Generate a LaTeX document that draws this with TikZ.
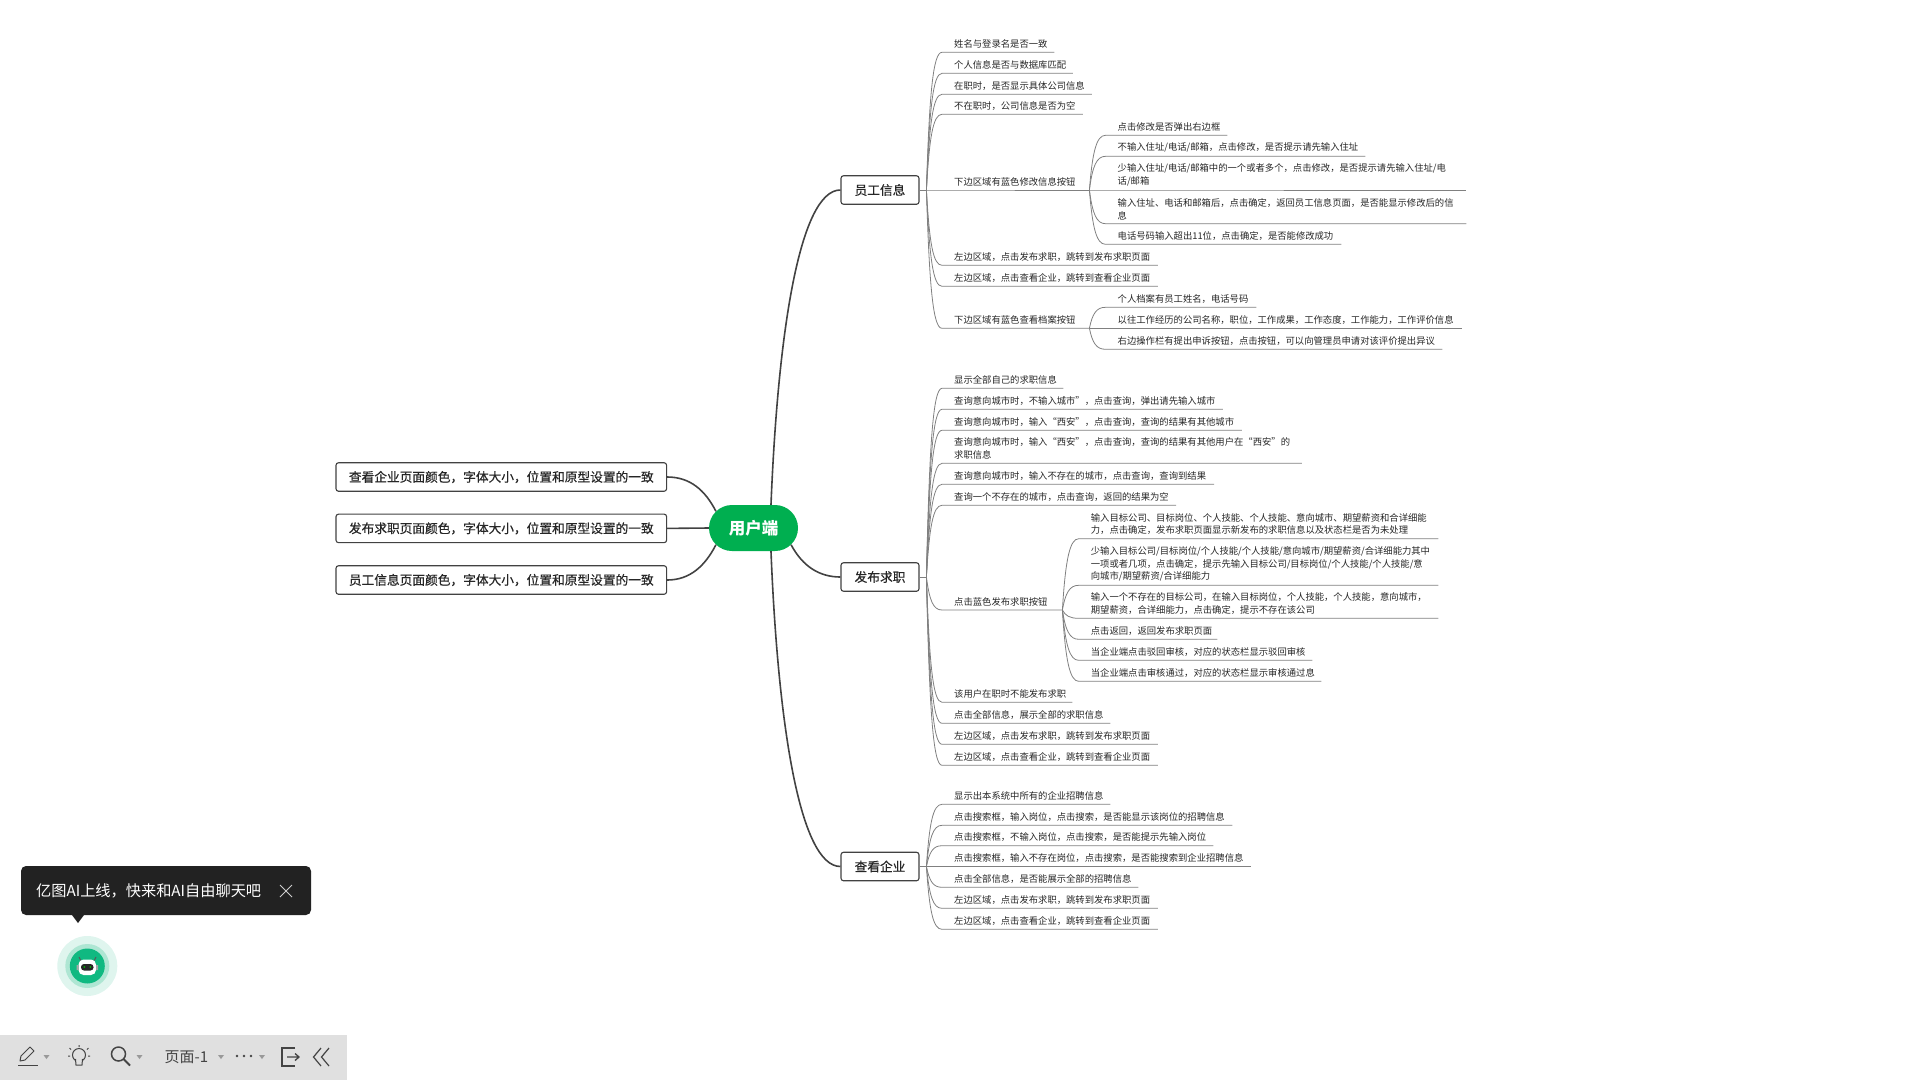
\documentclass[tikz,border=0pt]{standalone}
\usepackage{fontspec}
\setmainfont{Noto Sans CJK SC}
\newfontfamily\boldcjk[FakeBold=0.45]{Noto Sans CJK SC}
\usepackage{xcolor}
\usetikzlibrary{calc,shapes.misc}
\definecolor{trunkc}{HTML}{424242}
\definecolor{twigc}{HTML}{808080}
\definecolor{leafc}{HTML}{262626}
\definecolor{rootc}{HTML}{00AF50}
\definecolor{tipc}{HTML}{222222}
\definecolor{barc}{HTML}{E0E0E0}
\definecolor{iconc}{HTML}{444444}
\definecolor{botc}{HTML}{10B981}
\definecolor{botmid}{HTML}{AEE6D3}
\definecolor{botout}{HTML}{DFF5EE}
\tikzset{
  rootnode/.style={rounded rectangle,fill=rootc,text=white,minimum width=89pt,minimum height=46pt,inner sep=0pt,font=\fontsize{16.5}{18}\selectfont\bfseries},
  topic/.style={rectangle,rounded corners=2.5pt,draw=trunkc,line width=1.1pt,fill=white,text=leafc,minimum height=28.5pt,inner sep=0pt,font=\fontsize{12.7}{15}\selectfont\boldcjk},
  leaf/.style={anchor=south west,inner xsep=12pt,inner ysep=3.7pt,align=left,text=leafc,text width=#1pt,font=\fontsize{9.33}{12.7}\selectfont},
  trunk/.style={draw=trunkc,line width=1.6pt},
  twig/.style={draw=twigc,line width=0.8pt,to path={.. controls ($(\tikztostart)!.7!(\tikztostart |- \tikztotarget)+(3,0)$) and ($(\tikztotarget)+(-9,0)$) .. (\tikztotarget)}},
  caret/.style={fill=gray!80,draw=none}
}
\begin{document}
\begin{tikzpicture}[x=1pt,y=-1pt]
\useasboundingbox (0,0) rectangle (1920,1080);
% root and left boxes
\node[rootnode] (root) at (753.5,528) {用户端};
\node[topic,minimum width=330.6pt] (same1) at (501.3,477) {查看企业页面颜色，字体大小，位置和原型设置的一致};
\node[topic,minimum width=330.6pt] (same2) at (501.3,528.4) {发布求职页面颜色，字体大小，位置和原型设置的一致};
\node[topic,minimum width=330.6pt] (same3) at (501.3,580) {员工信息页面颜色，字体大小，位置和原型设置的一致};
\draw[trunk] (root.156) .. controls (705,490) and (690,477) .. (same1.east);
\draw[trunk] (root.west) -- (same2.east);
\draw[trunk] (root.204) .. controls (705,566) and (690,580) .. (same3.east);
% the three topics
\node[topic,minimum width=78pt] (staff) at (880,190) {员工信息};
\node[topic,minimum width=78pt] (post) at (880,577) {发布求职};
\node[topic,minimum width=78pt] (firm) at (880,866.5) {查看企业};
\draw[trunk] (root.53) .. controls (778,330) and (800,190) .. (staff.west);
\draw[trunk] (root.-24) .. controls (803,567) and (820,577) .. (post.west);
\draw[trunk] (root.-53) .. controls (778,726) and (800,866.5) .. (firm.west);
\coordinate (hubstaff) at (926.4,190);
\coordinate (hubpost) at (926.4,577);
\coordinate (hubfirm) at (926.4,866.5);
\draw[twig] (staff.east) -- (hubstaff);
\draw[twig] (post.east) -- (hubpost);
\draw[twig] (firm.east) -- (hubfirm);
% staff info
\node[leaf=88] (a1) at (942,52.3) {姓名与登录名是否一致};
\node[leaf=106.5] (a2) at (942,73.3) {个人信息是否与数据库匹配};
\node[leaf=125.4] (a3) at (942,94.3) {在职时，是否显示具体公司信息};
\node[leaf=116.5] (a4) at (942,114.3) {不在职时，公司信息是否为空};
\node[leaf=123] (a5) at (942,190) {下边区域有蓝色修改信息按钮};
\node[leaf=191.5] (a6) at (942,265.3) {左边区域，点击发布求职，跳转到发布求职页面};
\node[leaf=191.5] (a7) at (942,286.3) {左边区域，点击查看企业，跳转到查看企业页面};
\node[leaf=123] (a8) at (942,328.3) {下边区域有蓝色查看档案按钮};
\draw[twig] (hubstaff) to (a1.south west) -- (a1.south east);
\draw[twig] (hubstaff) to (a2.south west) -- (a2.south east);
\draw[twig] (hubstaff) to (a3.south west) -- (a3.south east);
\draw[twig] (hubstaff) to (a4.south west) -- (a4.south east);
\draw[twig] (hubstaff) -- (a5.south west) -- (a5.south east);
\draw[twig] (hubstaff) to (a6.south west) -- (a6.south east);
\draw[twig] (hubstaff) to (a7.south west) -- (a7.south east);
\draw[twig] (hubstaff) to (a8.south west) -- (a8.south east);
% edit button
\node[leaf=97.5] (b1) at (1105.5,135.3) {点击修改是否弹出右边框};
\node[leaf=235.5] (b2) at (1105.5,156.3) {不输入住址/电话/邮箱，点击修改，是否提示请先输入住址};
\node[leaf=336.5] (b3) at (1105.5,190) {少输入住址/电话/邮箱中的一个或者多个，点击修改，是否提示请先输入住址/电\\话/邮箱};
\node[leaf=336.5] (b4) at (1105.5,223.7) {输入住址、电话和邮箱后，点击确定，返回员工信息页面，是否能显示修改后的信\\息};
\node[leaf=211.5] (b5) at (1105.5,244.3) {电话号码输入超出11位，点击确定，是否能修改成功};
\draw[twig] (a5.south east) to (b1.south west) -- (b1.south east);
\draw[twig] (a5.south east) to (b2.south west) -- (b2.south east);
\draw[twig] (a5.south east) -- (b3.south west) -- (b3.south east);
\draw[twig] (a5.south east) to (b4.south west) -- (b4.south east);
\draw[twig] (a5.south east) to (b5.south west) -- (b5.south east);
% archive button
\node[leaf=126.5] (c1) at (1105.5,307.3) {个人档案有员工姓名，电话号码};
\node[leaf=332.5] (c2) at (1105.5,328.3) {以往工作经历的公司名称，职位，工作成果，工作态度，工作能力，工作评价信息};
\node[leaf=312.5] (c3) at (1105.5,349.3) {右边操作栏有提出申诉按钮，点击按钮，可以向管理员申请对该评价提出异议};
\draw[twig] (a8.south east) to (c1.south west) -- (c1.south east);
\draw[twig] (a8.south east) -- (c2.south west) -- (c2.south east);
\draw[twig] (a8.south east) to (c3.south west) -- (c3.south east);
% posting
\node[leaf=97] (d1) at (942,388.3) {显示全部自己的求职信息};
\node[leaf=256.5] (d2) at (942,409.3) {查询意向城市时，不输入城市”，点击查询，弹出请先输入城市};
\node[leaf=275.4] (d3) at (942,430.3) {查询意向城市时，输入“西安”，点击查询，查询的结果有其他城市};
\node[leaf=335.4] (d4) at (942,463.3) {查询意向城市时，输入“西安”，点击查询，查询的结果有其他用户在“西安”的\\求职信息};
\node[leaf=247.6] (d5) at (942,484.3) {查询意向城市时，输入不存在的城市，点击查询，查询到结果};
\node[leaf=209.7] (d6) at (942,505.3) {查询一个不存在的城市，点击查询，返回的结果为空};
\node[leaf=96] (d7) at (942,610) {点击蓝色发布求职按钮};
\node[leaf=106] (d8) at (942,702.3) {该用户在职时不能发布求职};
\node[leaf=144] (d9) at (942,723.3) {点击全部信息，展示全部的求职信息};
\node[leaf=191.5] (d10) at (942,744.3) {左边区域，点击发布求职，跳转到发布求职页面};
\node[leaf=191.5] (d11) at (942,765.3) {左边区域，点击查看企业，跳转到查看企业页面};
\draw[twig] (hubpost) to (d1.south west) -- (d1.south east);
\draw[twig] (hubpost) to (d2.south west) -- (d2.south east);
\draw[twig] (hubpost) to (d3.south west) -- (d3.south east);
\draw[twig] (hubpost) to (d4.south west) -- (d4.south east);
\draw[twig] (hubpost) to (d5.south west) -- (d5.south east);
\draw[twig] (hubpost) to (d6.south west) -- (d6.south east);
\draw[twig] (hubpost) to (d7.south west) -- (d7.south east);
\draw[twig] (hubpost) to (d8.south west) -- (d8.south east);
\draw[twig] (hubpost) to (d9.south west) -- (d9.south east);
\draw[twig] (hubpost) to (d10.south west) -- (d10.south east);
\draw[twig] (hubpost) to (d11.south west) -- (d11.south east);
% post button
\node[leaf=335.3] (e1) at (1078.7,538.7) {输入目标公司、目标岗位、个人技能、个人技能、意向城市、期望薪资和合详细能\\力，点击确定，发布求职页面显示新发布的求职信息以及状态栏是否为未处理};
\node[leaf=335.3] (e2) at (1078.7,585.3) {少输入目标公司/目标岗位/个人技能/个人技能/意向城市/期望薪资/合详细能力其中\\一项或者几项，点击确定，提示先输入目标公司/目标岗位/个人技能/个人技能/意\\向城市/期望薪资/合详细能力};
\node[leaf=335.3] (e3) at (1078.7,618.3) {输入一个不存在的目标公司，在输入目标岗位，个人技能，个人技能，意向城市，\\期望薪资，合详细能力，点击确定，提示不存在该公司};
\node[leaf=114.3] (e4) at (1078.7,639.3) {点击返回，返回发布求职页面};
\node[leaf=209.3] (e5) at (1078.7,660.3) {当企业端点击驳回审核，对应的状态栏显示驳回审核};
\node[leaf=218.3] (e6) at (1078.7,681.3) {当企业端点击审核通过，对应的状态栏显示审核通过息};
\draw[twig] (d7.south east) to (e1.south west) -- (e1.south east);
\draw[twig] (d7.south east) to (e2.south west) -- (e2.south east);
\draw[twig] (d7.south east) to (e3.south west) -- (e3.south east);
\draw[twig] (d7.south east) to (e4.south west) -- (e4.south east);
\draw[twig] (d7.south east) to (e5.south west) -- (e5.south east);
\draw[twig] (d7.south east) to (e6.south west) -- (e6.south east);
% firms
\node[leaf=144] (f1) at (942,804.3) {显示出本系统中所有的企业招聘信息};
\node[leaf=266] (f2) at (942,825.3) {点击搜索框，输入岗位，点击搜索，是否能显示该岗位的招聘信息};
\node[leaf=247] (f3) at (942,845.7) {点击搜索框，不输入岗位，点击搜索，是否能提示先输入岗位};
\node[leaf=285] (f4) at (942,866.5) {点击搜索框，输入不存在岗位，点击搜索，是否能搜索到企业招聘信息};
\node[leaf=172] (f5) at (942,887.3) {点击全部信息，是否能展示全部的招聘信息};
\node[leaf=191.5] (f6) at (942,908.3) {左边区域，点击发布求职，跳转到发布求职页面};
\node[leaf=191.5] (f7) at (942,929.3) {左边区域，点击查看企业，跳转到查看企业页面};
\draw[twig] (hubfirm) to (f1.south west) -- (f1.south east);
\draw[twig] (hubfirm) to (f2.south west) -- (f2.south east);
\draw[twig] (hubfirm) to (f3.south west) -- (f3.south east);
\draw[twig] (hubfirm) -- (f4.south west) -- (f4.south east);
\draw[twig] (hubfirm) to (f5.south west) -- (f5.south east);
\draw[twig] (hubfirm) to (f6.south west) -- (f6.south east);
\draw[twig] (hubfirm) to (f7.south west) -- (f7.south east);
% chat tip
\fill[tipc,rounded corners=5pt] (21,866) rectangle (311,915);
\fill[tipc] (72,915) -- (84,915) -- (78,923) -- cycle;
\node[anchor=west,inner sep=0pt,text=white,font=\fontsize{15.2}{17}\selectfont] (tiptext) at (36,891) {亿图AI上线，快来和AI自由聊天吧};
\draw[gray!40,line width=1pt] (280,885) -- (292,897) (280,897) -- (292,885);
% robot
\fill[botout] (87.3,966) circle (30);
\fill[botmid] (87.3,966) circle (22);
\fill[botc] (87.3,966) circle (17.5);
\draw[gray!70!black,line width=1pt] (81,961) -- (79,957) (94,961) -- (96,957);
\fill[white,rounded corners=5pt] (78.5,959.5) rectangle (96,975);
\fill[gray!70] (76.5,965) rectangle (78.5,970) (96,965) rectangle (98,970);
\fill[black!85,rounded corners=3pt] (81,964) rectangle (93.5,970.5);
\fill[green!70!black] (84.3,967) circle (1) (90.3,967) circle (1);
% tool bar
\fill[barc] (0,1035) rectangle (347,1080);
\draw[iconc,line width=1pt,line join=round] (20,1061) -- (21,1056) -- (30,1047) -- (34,1051) -- (25,1060) -- cycle;
\draw[iconc,line width=1pt] (18,1065.5) -- (38,1065.5);
\fill[caret] (43.5,1055) -- (49.5,1055) -- (46.5,1059) -- cycle;
\draw[iconc,line width=1pt] (79,1055) circle (6.5);
\draw[iconc,line width=1pt,fill=barc] (75.5,1059) -- (76,1065) -- (82,1065) -- (82.5,1059);
\draw[iconc,line width=1pt] (79,1047) -- (79,1045) (71,1049.5) -- (69.5,1048) (87,1049.5) -- (88.5,1048) (70,1056) -- (68,1056) (88,1056) -- (90,1056);
\draw[iconc,line width=1.5pt] (118.5,1054) circle (7);
\draw[iconc,line width=2pt] (123.5,1059) -- (130,1065.5);
\fill[caret] (136.5,1055) -- (142.5,1055) -- (139.5,1059) -- cycle;
\node[inner sep=0pt,text=iconc,font=\fontsize{15}{17}\selectfont] (pagename) at (186.5,1057) {页面-1};
\fill[caret] (218,1055) -- (224,1055) -- (221,1059) -- cycle;
\fill[iconc] (237,1056) circle (1.3) (244,1056) circle (1.3) (251,1056) circle (1.3);
\fill[caret] (259,1055) -- (265,1055) -- (262,1059) -- cycle;
\draw[iconc,line width=1.5pt] (295,1048) -- (282,1048) -- (282,1066) -- (295,1066);
\draw[iconc,line width=1.3pt] (287,1057) -- (299,1057) (295,1053.5) -- (299,1057) -- (295,1060.5);
\draw[iconc,line width=1.2pt] (321,1048) -- (313.5,1057) -- (321,1066) (329,1048) -- (321.5,1057) -- (329,1066);
\end{tikzpicture}
\end{document}
